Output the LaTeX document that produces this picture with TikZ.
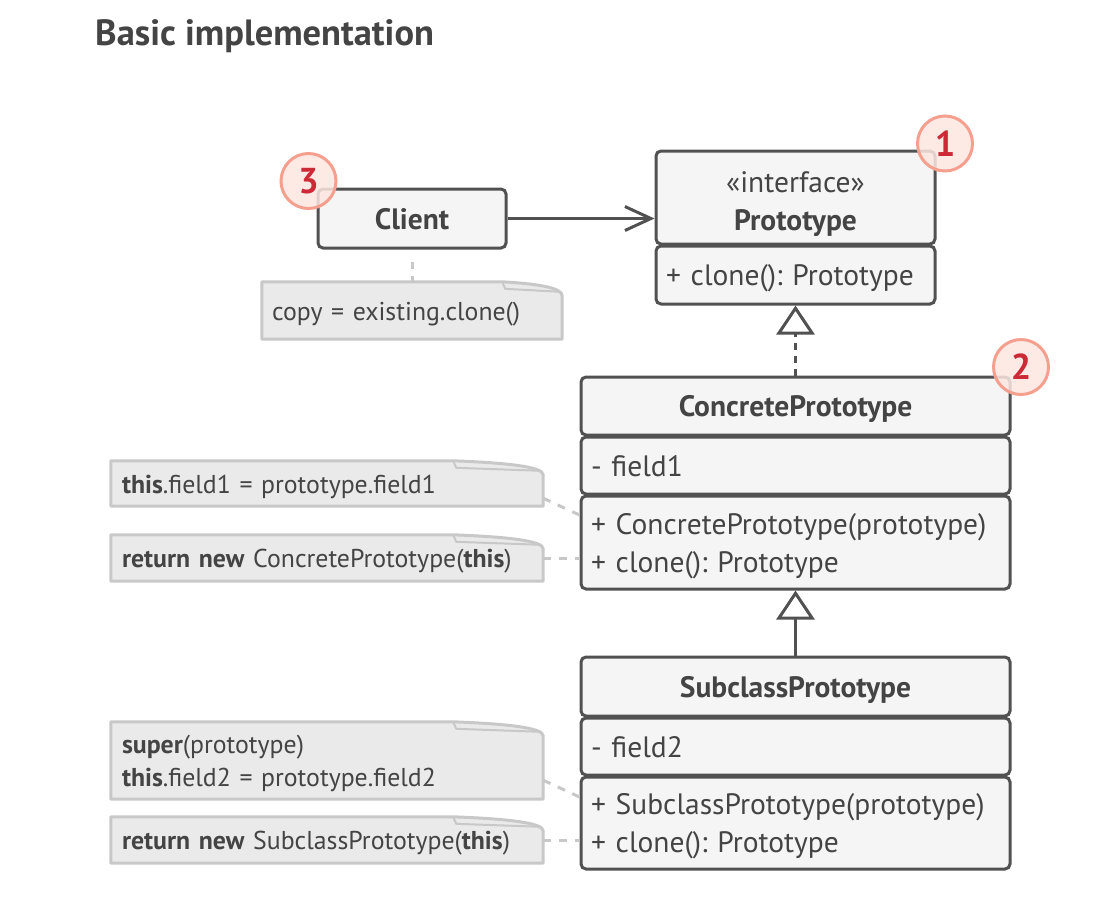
\documentclass[tikz,border=0pt]{standalone}
\usepackage{fontspec}
\setmainfont{PT Sans}
\usetikzlibrary{arrows.meta,backgrounds}
\frenchspacing

\definecolor{ink}{HTML}{444444}
\definecolor{boxline}{HTML}{515151}
\definecolor{boxfill}{HTML}{F5F5F5}
\definecolor{notefill}{HTML}{EAEAEA}
\definecolor{noteline}{HTML}{C8C8C8}
\definecolor{badgefill}{HTML}{FDE6E1}
\definecolor{badgeline}{HTML}{F5A08E}
\definecolor{badgetext}{HTML}{CC2A36}

% invisible strut giving every text line the same ascent and descent
\newcommand\linestrut{\rule[-0.258em]{0pt}{1.258em}}

% folded-paper outline behind a note node: #1 node name, #2 fold width
\newcommand\notepaper[2]{%
  \path[notepath] (#1.south west) -- (#1.north west) -- ([xshift={-#2pt}]#1.north east)
    .. controls ([xshift={-0.4*#2pt}, yshift=-2pt]#1.north east) and ([yshift=-6pt]#1.north east)
    .. ([yshift=-14pt]#1.north east) -- (#1.south east) -- cycle;
  \draw[flapline] ([xshift={-#2pt}]#1.north east) -- ([xshift={-#2pt+3pt}, yshift=-7pt]#1.north east)
    -- ([xshift=-2pt, yshift=-10pt]#1.north east);
}

\begin{document}
\begin{tikzpicture}[x=1pt, y=-1pt,
  compart/.style={draw=boxline, fill=boxfill, line width=3pt, rounded corners=5pt,
    inner sep=0pt, text=ink, font=\fontsize{29.5}{38}\selectfont,
    execute at begin node=\linestrut, execute at end node=\linestrut},
  head/.style={compart, align=center},
  member/.style={compart, align=left, inner xsep=10pt},
  classname/.style={head, font=\fontsize{29.5}{38}\selectfont\bfseries},
  note/.style={inner sep=0pt, inner xsep=11pt, text=ink, align=left,
    font=\fontsize{25.8}{33}\selectfont,
    execute at begin node=\linestrut, execute at end node=\linestrut},
  notepath/.style={fill=notefill, draw=noteline, line width=3pt, line join=round},
  flapline/.style={draw=noteline, line width=2pt, line join=round},
  badge/.style={circle, minimum size=55pt, inner sep=0pt, draw=badgeline, line width=3pt,
    fill=badgefill, fill opacity=0.85, text opacity=1, text=badgetext,
    font=\fontsize{36}{36}\selectfont\bfseries},
  assoc/.style={draw=boxline, line width=3pt, -{Straight Barb[length=26pt, width=24pt]}},
  realize/.style={draw=boxline, line width=3pt, dash pattern=on 7pt off 6pt,
    -{Triangle[length=29pt, width=38pt, fill=white]}},
  inherit/.style={draw=boxline, line width=3pt, -{Triangle[length=29pt, width=38pt, fill=white]}},
  noteconn/.style={draw=noteline, line width=3pt, dash pattern=on 8pt off 8pt},
]
\useasboundingbox (0,0) rectangle (1103,906);

% heading
\node[anchor=base west, inner sep=0pt, text=ink, font=\fontsize{36.5}{40}\selectfont\bfseries]
  (title) at (95,45) {Basic implementation};

% client
\node[classname, minimum width=188pt, minimum height=59pt] (client) at (412,218.5) {Client};

% Prototype interface
\node[head, minimum width=279pt, minimum height=93pt] (protohead) at (795.5,197.5)
  {\rule{0pt}{1.18em}«interface»\\\textbf{Prototype}};
\node[member, text width=259pt, minimum height=58pt] (protometh) at (795.5,275)
  {+ clone(): Prototype};

% ConcretePrototype
\node[classname, minimum width=429pt, minimum height=58pt] (chead) at (795.5,406) {ConcretePrototype};
\node[member, text width=409pt, minimum height=57pt] (cfield) at (795.5,465.5) {- field1};
\node[member, text width=409pt, minimum height=93pt] (cmeth) at (795.5,542.5)
  {+ ConcretePrototype(prototype)\\+ clone(): Prototype};

% SubclassPrototype
\node[classname, minimum width=429pt, minimum height=59pt] (shead) at (795.5,686.5) {SubclassPrototype};
\node[member, text width=409pt, minimum height=57pt] (sfield) at (795.5,746.5) {- field2};
\node[member, text width=409pt, minimum height=92pt] (smeth) at (795.5,823)
  {+ SubclassPrototype(prototype)\\+ clone(): Prototype};

% notes
\node[note, inner xsep=10pt, text width=280pt, minimum height=57pt] (cnote) at (412,310.5)
  {copy = existing.clone()};
\node[note, text width=410pt, minimum height=45pt] (nA) at (327,483.5)
  {\textbf{this}.field1 = prototype.field1};
\node[note, text width=410pt, minimum height=46pt] (nB) at (327,558)
  {\textbf{return new} ConcretePrototype(\textbf{this})};
\node[note, text width=410pt, minimum height=77pt] (nC) at (327,760.5)
  {\textbf{super}(prototype)\\\textbf{this}.field2 = prototype.field2};
\node[note, text width=410pt, minimum height=46pt] (nD) at (327,840)
  {\textbf{return new} SubclassPrototype(\textbf{this})};

\begin{scope}[on background layer]
  \notepaper{cnote}{60}
  \notepaper{nA}{90}
  \notepaper{nB}{90}
  \notepaper{nC}{90}
  \notepaper{nD}{90}
\end{scope}

% badges
\node[badge] (b1) at (945,143.5) {1};
\node[badge] (b2) at (1021,367) {2};
\node[badge] (b3) at (308.5,181) {3};

% relations
\draw[assoc] (client.east) -- (client.east -| protohead.west);
\draw[realize] (chead.north) -- (protometh.south);
\draw[inherit] (shead.north) -- (cmeth.south);

% note connectors
\draw[noteconn, dash pattern=on 7pt off 7pt, shorten <=12pt] (client.south) -- (cnote.north);
\draw[noteconn] ([yshift=8pt]nA.south east) -- ([yshift=27.5pt]cmeth.west);
\draw[noteconn] (nB.east) -- (nB.east -| cmeth.west);
\draw[noteconn] ([yshift=19pt]nC.south east) -- ([yshift=26pt]smeth.west);
\draw[noteconn] (nD.east) -- (nD.east -| smeth.west);
\end{tikzpicture}
\end{document}
